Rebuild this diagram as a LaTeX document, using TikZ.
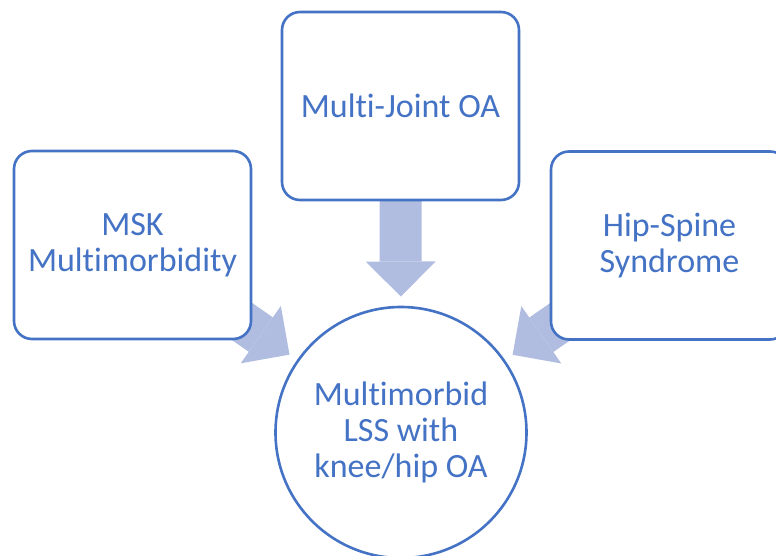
\documentclass[tikz,border=0pt]{standalone}
\usepackage{fontspec}
\setmainfont[Ligatures=NoCommon]{Carlito}
\usetikzlibrary{arrows.meta,backgrounds}
\definecolor{accent}{HTML}{4472C4}
\definecolor{arrowfill}{RGB}{176,189,224}
\tikzset{
  box/.style={draw=accent, line width=2.6pt, fill=white, rounded corners=18pt,
    minimum width=237pt, minimum height=188pt, inner sep=0pt,
    text=accent, align=center, font=\fontsize{34}{36}\selectfont},
  hub/.style={draw=accent, line width=2.6pt, fill=white, circle,
    minimum size=251pt, inner sep=0pt,
    text=accent, align=center, font=\fontsize{34}{36}\selectfont},
  bigarrow/.style={draw=arrowfill, line width=42pt, shorten >=136pt,
    -{Triangle[width=70pt,length=35pt,line width=0pt]}}
}
\begin{document}
\begin{tikzpicture}[x=1pt,y=-1pt]
      \useasboundingbox (0,0) rectangle (776,556);
      \draw
        (400.5,106) node[box] (joint){Multi-Joint OA}
        (132.5,245) node[box] (msk){MSK\\Multimorbidity}
        (669.5,245.5) node[box] (hip){Hip-Spine\\Syndrome}
        (401,432.5) node[hub] (core){Multimorbid\\LSS with\\knee/hip OA};
      \begin{scope}[on background layer]
        \draw[bigarrow] (joint.center) to (core.center);
        \draw[bigarrow] (msk.center) to (core.center);
        \draw[bigarrow] (hip.center) to (core.center);
      \end{scope}
    \end{tikzpicture}
\end{document}
